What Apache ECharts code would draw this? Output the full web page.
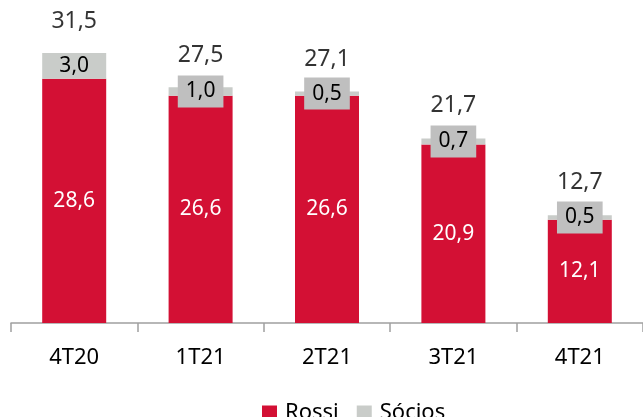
<!DOCTYPE html>
<html>
<head>
<meta charset="utf-8">
<script src="https://cdn.jsdelivr.net/npm/echarts@6/dist/echarts.min.js"></script>
<style>
    html, body { margin: 0; padding: 0; background: #fff; }
    #chart { width: 643px; height: 417px; }
</style>
</head>
<body>
<div id="chart"></div>
<script>
var categories = ['4T20', '1T21', '2T21', '3T21', '4T21'];
var rossi = [28.6, 26.6, 26.6, 20.9, 12.1];
var socios = [3.0, 1.0, 0.5, 0.7, 0.5];
var totals = [31.5, 27.5, 27.1, 21.7, 12.7];

var font = 'Noto Sans';

function fmt(v) {
    return v.toFixed(1).replace('.', ',');
}

initChart();

function initChart() {
    var myChart = echarts.init(document.getElementById('chart'));
    // barras pequenas ganham caixa cinza no rótulo
    var sociosData = socios.map(function(v) {
        var item = { value: v };
        if (v < 2) {
            item.label = {
                backgroundColor: '#bfbfbf',
                padding: [6, 8, 5, 8]
            };
        }
        return item;
    });
    var option = {
        animation: false,
        textStyle: { fontFamily: font },
        grid: { left: 11, right: -4, top: 24, bottom: 94 },
        legend: {
            bottom: -12,
            left: 257,
            itemWidth: 15,
            itemHeight: 15,
            itemGap: 18,
            icon: 'rect',
            textStyle: { fontSize: 22, color: '#000', fontFamily: font, padding: [0, 0, 0, 3] },
            data: ['Rossi', 'Sócios']
        },
        xAxis: {
            type: 'category',
            data: categories,
            axisLine: { lineStyle: { color: '#a0a0a0', width: 1.5 } },
            axisTick: { show: true, interval: 0, length: 9, lineStyle: { color: '#a0a0a0', width: 1.5 } },
            axisLabel: { fontSize: 22, color: '#000', margin: 24, fontFamily: font }
        },
        yAxis: {
            type: 'value',
            min: 0,
            max: 35,
            show: false,
            splitLine: { show: false }
        },
        series: [{
            name: 'Rossi',
            type: 'bar',
            stack: 'total',
            barWidth: 64,
            itemStyle: { color: '#d31034' },
            label: {
                show: true,
                position: 'inside',
                color: '#fff',
                fontSize: 21,
                fontFamily: font,
                formatter: function(p) { return fmt(p.value); }
            },
            data: rossi
        }, {
            name: 'Sócios',
            type: 'bar',
            stack: 'total',
            barWidth: 64,
            itemStyle: { color: '#c9ccc9' },
            label: {
                show: true,
                position: 'inside',
                color: '#000',
                fontSize: 21,
                fontFamily: font,
                formatter: function(p) { return fmt(p.value); }
            },
            data: sociosData
        }, {
            name: 'Total',
            type: 'scatter',
            symbolSize: 0,
            silent: true,
            label: {
                show: true,
                position: 'top',
                distance: 21,
                color: '#000',
                fontSize: 23,
                fontFamily: font,
                formatter: function(p) { return fmt(p.value[1] !== undefined ? p.value[1] : p.value); }
            },
            data: totals
        }]
    };
    myChart.setOption(option);
}
</script>
</body>
</html>
